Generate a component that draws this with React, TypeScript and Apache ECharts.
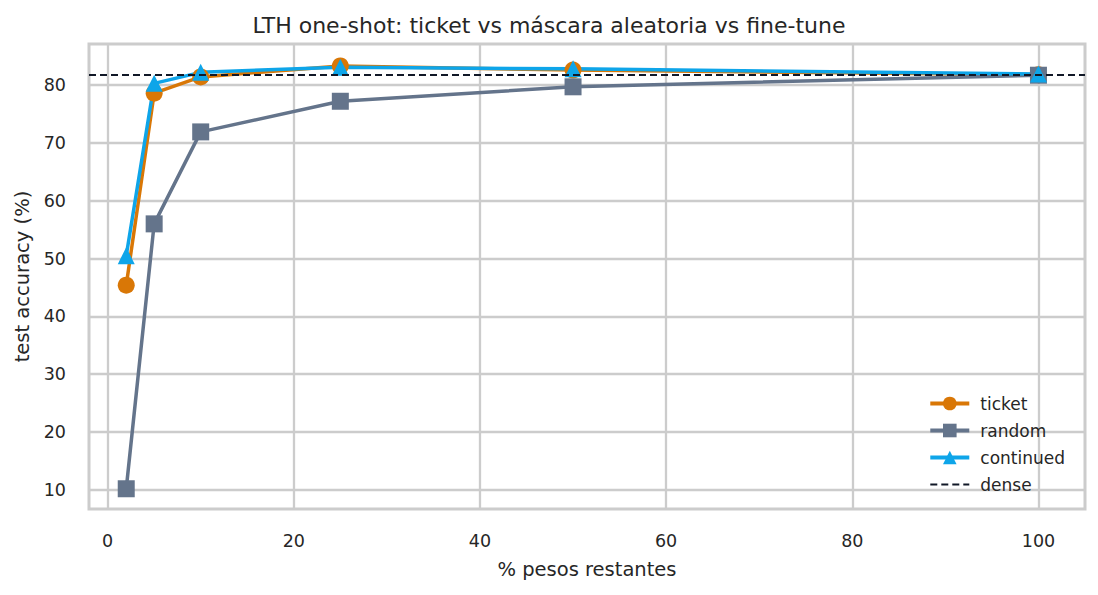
import { useEffect, useRef } from 'react'
import * as echarts from 'echarts'

// % de pesos restantes
const remaining = [2, 5, 10, 25, 50, 100]
const ticketAcc = [45.4, 78.6, 81.4, 83.3, 82.6, 81.8]
const randomAcc = [10.2, 56.0, 71.9, 77.2, 79.7, 81.7]
const continuedAcc = [50.5, 80.3, 82.2, 83.1, 82.8, 81.9]
const denseAcc = 81.8

const xTicks = [0, 20, 40, 60, 80, 100]
const yTicks = [10, 20, 30, 40, 50, 60, 70, 80]

const FONT = 'DejaVu Sans'
const TXT = '#262626'

const pts = (ys: number[]) => remaining.map((x, i) => [x, ys[i]])

export default function App() {
  const ref = useRef<HTMLDivElement>(null)

  useEffect(() => {
    if (!ref.current) return
    const chart = echarts.init(ref.current, undefined, { renderer: 'svg' })
    const line = (name: string, ys: number[], color: string, symbol: string) => ({
      name, type: 'line', data: pts(ys), symbol, symbolSize: 17,
      lineStyle: { color, width: 3.5 }, itemStyle: { color }, z: 3,
    })
    chart.setOption({
      animation: false,
      backgroundColor: '#ffffff',
      textStyle: { fontFamily: FONT, color: TXT },
      title: {
        text: 'LTH one-shot: ticket vs máscara aleatoria vs fine-tune',
        left: 'center', top: 9,
        textStyle: { fontFamily: FONT, fontSize: 22, fontWeight: 'normal', color: TXT },
      },
      grid: { left: 89, right: 13, top: 44, bottom: 86, show: true, borderColor: '#cccccc', borderWidth: 3, backgroundColor: '#ffffff' },
      xAxis: {
        type: 'value', min: -2, max: 105,
        name: '% pesos restantes', nameLocation: 'middle', nameGap: 50,
        nameTextStyle: { fontFamily: FONT, fontSize: 19.5, color: TXT },
        axisLine: { show: false },
        axisTick: { show: false, customValues: xTicks },
        axisLabel: { customValues: xTicks, margin: 23, fontFamily: FONT, fontSize: 17.5, color: TXT },
        splitLine: { show: true, lineStyle: { color: '#cccccc', width: 2.3 } },
      },
      yAxis: {
        type: 'value', min: 6.7, max: 87.1,
        name: 'test accuracy (%)', nameLocation: 'middle', nameGap: 55,
        nameTextStyle: { fontFamily: FONT, fontSize: 19.5, color: TXT },
        axisLine: { show: false },
        axisTick: { show: false, customValues: yTicks },
        axisLabel: { customValues: yTicks, margin: 23, fontFamily: FONT, fontSize: 17.5, color: TXT },
        splitLine: { show: true, lineStyle: { color: '#cccccc', width: 2.3 } },
      },
      legend: {
        orient: 'vertical', right: 28, top: 390, align: 'left',
        itemWidth: 39, itemHeight: 17, itemGap: 10,
        lineStyle: { width: 4 },
        textStyle: { fontFamily: FONT, fontSize: 17, color: TXT, padding: [0, 0, 0, 6] },
        data: [
          { name: 'ticket' },
          { name: 'random' },
          { name: 'continued' },
          { name: 'dense', itemStyle: { opacity: 0 }, lineStyle: { width: 2 } },
        ],
      },
      series: [
        line('ticket', ticketAcc, '#d97706', 'circle'),
        line('random', randomAcc, '#64748b', 'rect'),
        line('continued', continuedAcc, '#0ea5e9', 'triangle'),
        {
          name: 'dense', type: 'line', data: [], symbol: 'none', z: 2,
          lineStyle: { color: '#111827', width: 2, type: [7, 4] }, itemStyle: { color: '#111827' },
          markLine: {
            silent: true, symbol: ['none', 'none'], label: { show: false },
            lineStyle: { color: '#111827', width: 2, type: [7, 4] },
            data: [{ yAxis: denseAcc }],
          },
        },
      ],
    })
    return () => chart.dispose()
  }, [])

  return <div ref={ref} style={{ position: 'fixed', left: 0, top: 0, width: 1098, height: 595 }} />
}
